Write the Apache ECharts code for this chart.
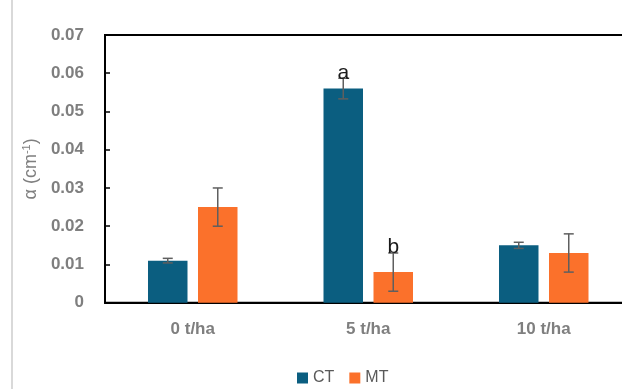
<!DOCTYPE html>
<html>
<head>
<meta charset="utf-8">
<script src="https://cdn.jsdelivr.net/npm/echarts@6/dist/echarts.min.js"></script>
<style>
  html, body { margin: 0; padding: 0; background: #fff; }
  #chart { width: 622px; height: 389px; }
</style>
</head>
<body>
<div id="chart"></div>
<script>
// Infiltration parameter α by residue rate and tillage
var categories = ['0 t/ha', '5 t/ha', '10 t/ha'];
var ctMean = [0.011, 0.056, 0.015];
var ctErr = [0.0006, 0.0027, 0.0008];
var mtMean = [0.025, 0.008, 0.013];
var mtErr = [0.005, 0.005, 0.005];
var ctLetters = ['', 'a', ''];
var mtLetters = ['', 'b', ''];
var yTicks = [0, 0.01, 0.02, 0.03, 0.04, 0.05, 0.06, 0.07];

var CT_COLOR = '#0B5E80';
var MT_COLOR = '#FB712B';
var BAR_W = 39.5;
var BAR_GAP_PX = 10.5;
var SHIFT = (BAR_W + BAR_GAP_PX) / 2;

function errData(mean, err) {
  return mean.map(function (m, i) { return [i, m, err[i]]; });
}

// Whisker with caps, plus an optional significance letter above it
function makeErrRender(dir, letters) {
  return function (params, api) {
    var i = api.value(0), m = api.value(1), e = api.value(2);
    var letter = letters[params.dataIndex];
    var top = api.coord([i, m + e]);
    var bot = api.coord([i, m - e]);
    var x = top[0] + dir * SHIFT;
    var cap = 5;
    var style = { stroke: '#5f5f5f', lineWidth: 1.5 };
    var children = [
      { type: 'line', shape: { x1: x, y1: top[1], x2: x, y2: bot[1] }, style: style },
      { type: 'line', shape: { x1: x - cap, y1: top[1], x2: x + cap, y2: top[1] }, style: style },
      { type: 'line', shape: { x1: x - cap, y1: bot[1], x2: x + cap, y2: bot[1] }, style: style }
    ];
    if (letter) {
      children.push({
        type: 'text',
        style: {
          text: letter, x: x, y: top[1] + 5,
          align: 'center', verticalAlign: 'bottom',
          fontSize: 21, fontFamily: 'Liberation Sans, Arial, sans-serif',
          fill: '#1a1a1a'
        },
        z2: 10
      });
    }
    return { type: 'group', children: children };
  };
}

var chart = echarts.init(document.getElementById('chart'), null, { renderer: 'canvas' });

chart.setOption({
  animation: false,
  textStyle: { fontFamily: 'Liberation Sans, Arial, sans-serif' },
  grid: {
    left: 105, top: 35, width: 526.5, height: 267.7,
    outerBoundsMode: 'none', containLabel: false,
    show: true, borderColor: '#000', borderWidth: 2, backgroundColor: 'transparent'
  },
  graphic: [{
    type: 'line', shape: { x1: 12, y1: 0, x2: 12, y2: 389 },
    style: { stroke: '#d9d9d9', lineWidth: 2 }
  }],
  legend: {
    data: ['CT', 'MT'],
    top: 365, left: 292,
    icon: 'rect', itemWidth: 11, itemHeight: 11, itemGap: 15,
    textStyle: { color: '#595959', fontSize: 16 }
  },
  xAxis: {
    type: 'category', data: categories,
    axisLine: { lineStyle: { color: '#000', width: 2 } },
    axisTick: { show: false },
    axisLabel: { color: '#7f7f7f', fontWeight: 'bold', fontSize: 17, margin: 18 }
  },
  yAxis: {
    type: 'value', min: 0, max: 0.07, interval: 0.01,
    name: '{a|α (cm}{s|-1}{a|)}',
    nameLocation: 'middle', nameGap: 62,
    nameTextStyle: {
      rich: {
        a: { color: '#7f7f7f', fontSize: 18, lineHeight: 20 },
        s: { color: '#7f7f7f', fontSize: 11, lineHeight: 20, verticalAlign: 'top', padding: [0, 0, 8, 0] }
      }
    },
    axisLine: { show: true, lineStyle: { color: '#000', width: 2 } },
    axisTick: { show: true, inside: true, length: 5, lineStyle: { color: '#000', width: 1.5 } },
    splitLine: { show: false },
    axisLabel: {
      color: '#7f7f7f', fontWeight: 'bold', fontSize: 17, margin: 21,
      formatter: function (v) {
        var t = yTicks.find(function (k) { return Math.abs(k - v) < 1e-9; });
        return t === 0 ? '0' : t.toFixed(2);
      }
    }
  },
  series: [
    {
      name: 'CT', type: 'bar', data: ctMean, barWidth: BAR_W,
      barGap: (BAR_GAP_PX / BAR_W * 100).toFixed(1) + '%',
      itemStyle: { color: CT_COLOR }
    },
    {
      name: 'MT', type: 'bar', data: mtMean, barWidth: BAR_W,
      itemStyle: { color: MT_COLOR }
    },
    {
      type: 'custom', name: 'CT error', data: errData(ctMean, ctErr),
      renderItem: makeErrRender(-1, ctLetters), z: 5, silent: true
    },
    {
      type: 'custom', name: 'MT error', data: errData(mtMean, mtErr),
      renderItem: makeErrRender(1, mtLetters), z: 5, silent: true
    }
  ]
});
</script>
</body>
</html>
